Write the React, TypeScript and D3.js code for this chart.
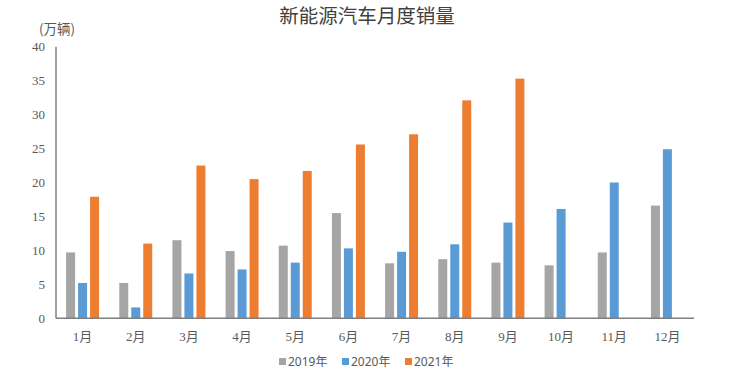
import React from 'react'
import * as d3 from 'd3'

const months = ['1月', '2月', '3月', '4月', '5月', '6月', '7月', '8月', '9月', '10月', '11月', '12月']
const seriesNames = ['2019年', '2020年', '2021年']
const sales2019 = [9.7, 5.2, 11.5, 9.9, 10.7, 15.5, 8.1, 8.7, 8.2, 7.8, 9.7, 16.6]
const sales2020 = [5.2, 1.6, 6.6, 7.2, 8.2, 10.3, 9.8, 10.9, 14.1, 16.1, 20.0, 24.9]
const sales2021 = [17.9, 11.0, 22.5, 20.5, 21.7, 25.6, 27.1, 32.1, 35.3, null, null, null]
const yTicks = [0, 5, 10, 15, 20, 25, 30, 35, 40]
const colors = ['#A5A5A5', '#5B9BD5', '#ED7D31']

export default function App() {
  const width = 734
  const height = 384
  const left = 56
  const right = 694
  const top = 46.7
  const bottom = 318.3

  const x = d3.scaleBand().domain(months).range([left, right]).paddingInner(0.38).paddingOuter(0.19)
  const xs = d3.scaleBand().domain(seriesNames).range([0, x.bandwidth()]).paddingInner(0.25)
  const y = d3.scaleLinear().domain([0, 40]).range([bottom, top])

  const all = [sales2019, sales2020, sales2021]
  const serifFont = '"Liberation Serif", "Noto Sans CJK SC", serif'
  const sansFont = '"Noto Sans", "Noto Sans CJK SC", sans-serif'

  return (
    <svg width={width} height={height} style={{ position: 'absolute', left: 0, top: 0, background: '#fff' }}>
      <text x={367} y={23} textAnchor="middle" fontSize={19.5} fill="#404040" fontFamily={'"Noto Sans CJK SC", serif'}>
        新能源汽车月度销量
      </text>
      <text x={39} y={34} fontSize={13.5} fill="#595959" fontFamily={'"Noto Sans CJK SC", sans-serif'}>
        (万辆)
      </text>

      {yTicks.map(t => (
        <text key={t} x={45} y={y(t)} dy="0.35em" textAnchor="end" fontSize={13} fill="#595959" fontFamily={serifFont}>
          {t}
        </text>
      ))}

      {all.map((vals, si) =>
        vals.map((v, i) =>
          v == null ? null : (
            <rect
              key={si + '-' + i}
              x={(x(months[i]) ?? 0) + (xs(seriesNames[si]) ?? 0)}
              y={y(v)}
              width={xs.bandwidth()}
              height={y(0) - y(v)}
              fill={colors[si]}
            />
          )
        )
      )}

      <line x1={left} x2={left} y1={top} y2={bottom} stroke="#7F7F7F" strokeWidth={1.5} />
      <line x1={left} x2={right} y1={bottom} y2={bottom} stroke="#7F7F7F" strokeWidth={1.5} />

      {months.map(m => (
        <text key={m} x={(x(m) ?? 0) + x.bandwidth() / 2} y={336} dy="0.35em" textAnchor="middle" fontSize={13} fill="#595959" fontFamily={serifFont}>
          {m}
        </text>
      ))}

      {seriesNames.map((s, i) => {
        const lx = [279, 342, 405][i]
        return (
          <g key={s}>
            <rect x={lx} y={358} width={7} height={7} fill={colors[i]} />
            <text x={lx + 9} y={362} dy="0.35em" fontSize={12} fill="#595959" fontFamily={sansFont}>
              {s}
            </text>
          </g>
        )
      })}
    </svg>
  )
}
